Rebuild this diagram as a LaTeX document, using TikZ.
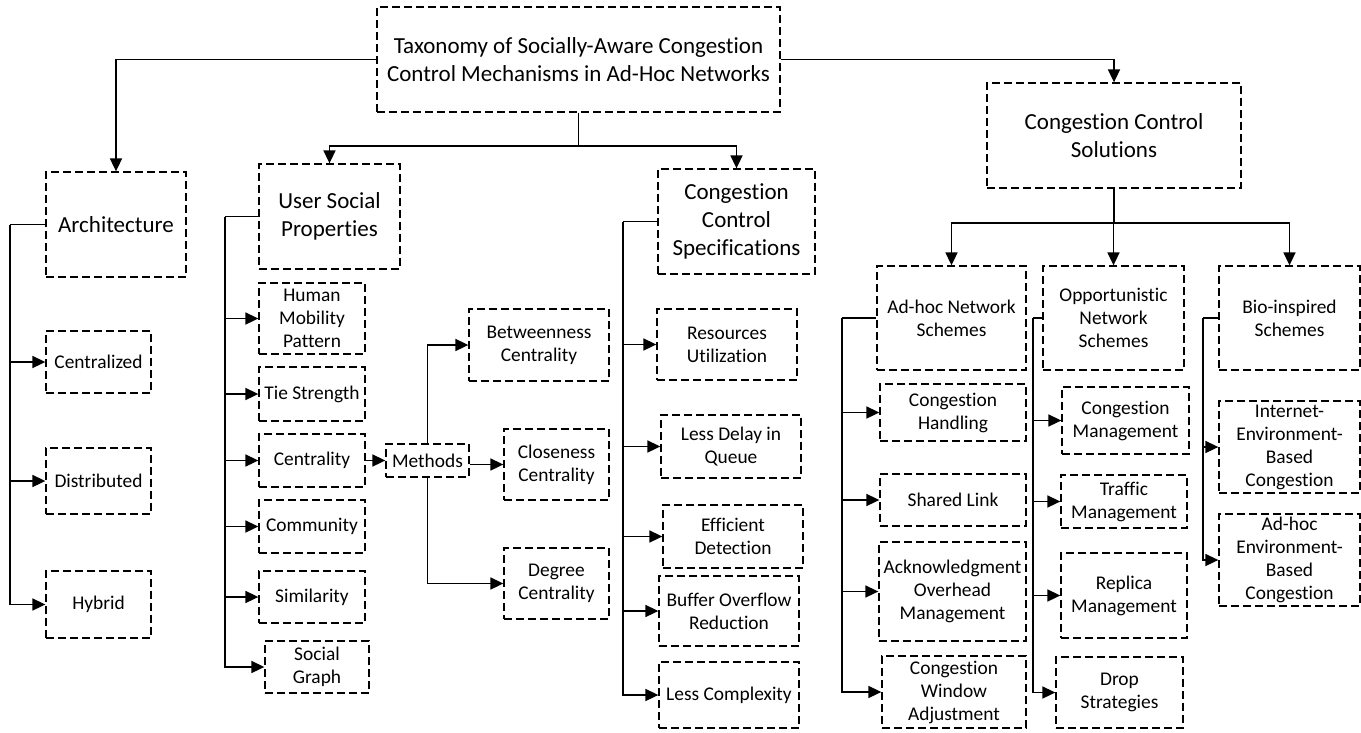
\documentclass[tikz,border=0pt]{standalone}
\usepackage{fontspec}
\setmainfont[Ligatures=NoCommon]{Carlito}
\usetikzlibrary{arrows.meta}

\tikzset{
  boite/.style={draw, dash pattern=on 8pt off 4pt, line width=1.3pt, align=center,
    inner sep=1pt, font=\fontsize{19.4}{23}\selectfont},
  grande/.style={boite, font=\fontsize{23}{28}\selectfont},
  trait/.style={line width=1.7pt},
  fleche/.style={trait, -{Triangle[length=13pt,width=12pt]}}
}

\begin{document}
\begin{tikzpicture}[x=1pt,y=-1pt]

		\useasboundingbox (0,0) rectangle (1361,732);

		% Racine
		\node[grande, minimum width=403pt, minimum height=105pt] (root) at (578.5,59.5)
			{Taxonomy of Socially-Aware Congestion\\Control Mechanisms in Ad-Hoc Networks};

		% Architecture
		\node[grande, minimum width=140pt, minimum height=105pt] (arch) at (116,224.5) {Architecture};
		\node[boite, minimum width=105pt, minimum height=62pt] (centz) at (98.5,362) {Centralized};
		\node[boite, minimum width=105pt, minimum height=66pt] (dist) at (98.5,481) {Distributed};
		\node[boite, minimum width=105pt, minimum height=67pt] (hyb) at (98.5,604.5) {Hybrid};

		% User Social Properties
		\node[grande, minimum width=141pt, minimum height=105pt] (usp) at (329.5,216.5) {User Social\\Properties};
		\node[boite, minimum width=106pt, minimum height=71pt] (hmp) at (312,318.5) {Human\\Mobility\\Pattern};
		\node[boite, minimum width=106pt, minimum height=54pt] (tie) at (312,394) {Tie Strength};
		\node[boite, minimum width=106pt, minimum height=53pt] (centy) at (312,460.5) {Centrality};
		\node[boite, minimum width=106pt, minimum height=53pt] (comm) at (312,526.5) {Community};
		\node[boite, minimum width=106pt, minimum height=52pt] (sim) at (312,597) {Similarity};
		\node[boite, minimum width=104pt, minimum height=52pt] (sgraph) at (317,667) {Social\\Graph};

		% Methods
		\node[boite, minimum width=83pt, minimum height=33pt] (meth) at (427.5,460.5) {Methods};
		\node[boite, minimum width=140pt, minimum height=72pt] (betw) at (539,345) {Betweenness\\Centrality};
		\node[boite, minimum width=105pt, minimum height=71pt] (clos) at (556.5,464.5) {Closeness\\Centrality};
		\node[boite, minimum width=105pt, minimum height=71pt] (deg) at (556.5,583.5) {Degree\\Centrality};

		% Congestion Control Specifications
		\node[grande, minimum width=157pt, minimum height=105pt] (ccspec) at (736.5,221.5) {Congestion\\Control\\Specifications};
		\node[boite, minimum width=140pt, minimum height=71pt] (res) at (727,344.5) {Resources\\Utilization};
		\node[boite, minimum width=140pt, minimum height=63pt] (ldq) at (731,446.5) {Less Delay in\\Queue};
		\node[boite, minimum width=140pt, minimum height=63pt] (effd) at (733,536.5) {Efficient\\Detection};
		\node[boite, minimum width=140pt, minimum height=70pt] (bor) at (729,611) {Buffer Overflow\\Reduction};
		\node[boite, minimum width=140pt, minimum height=66pt] (lcx) at (729,695) {Less Complexity};

		% Congestion Control Solutions
		\node[grande, minimum width=254pt, minimum height=105pt] (ccs) at (1114,135.5) {Congestion Control\\Solutions};
		\node[boite, minimum width=149pt, minimum height=104pt] (adhoc) at (951.5,318) {Ad-hoc Network\\Schemes};
		\node[boite, minimum width=141pt, minimum height=104pt] (opp) at (1113.5,318) {Opportunistic\\Network\\Schemes};
		\node[boite, minimum width=141pt, minimum height=104pt] (bio) at (1289.5,318) {Bio-inspired\\Schemes};

		% Ad-hoc Network Schemes
		\node[boite, minimum width=146pt, minimum height=57pt] (ch) at (953,412.5) {Congestion\\Handling};
		\node[boite, minimum width=146pt, minimum height=52pt] (slink) at (953,500) {Shared Link};
		\node[boite, minimum width=147pt, minimum height=99pt] (ack) at (952.5,591.5) {Acknowledgment\\Overhead\\Management};
		\node[boite, minimum width=144pt, minimum height=72pt] (cwa) at (954,692) {Congestion\\Window\\Adjustment};

		% Opportunistic Network Schemes
		\node[boite, minimum width=127pt, minimum height=67pt] (cm) at (1125.5,420.5) {Congestion\\Management};
		\node[boite, minimum width=126pt, minimum height=53pt] (tm) at (1124,501.5) {Traffic\\Management};
		\node[boite, minimum width=126pt, minimum height=85pt] (rm) at (1124,595.5) {Replica\\Management};
		\node[boite, minimum width=127pt, minimum height=71pt] (drop) at (1119.5,692.5) {Drop\\Strategies};

		% Bio-inspired Schemes
		\node[boite, minimum width=141pt, minimum height=92pt] (iebc) at (1289.5,447) {Internet-\\Environment-\\Based\\Congestion};
		\node[boite, minimum width=141pt, minimum height=92pt] (aebc) at (1289.5,560) {Ad-hoc\\Environment-\\Based\\Congestion};

		% Flèches depuis la racine
		\coordinate (rootjoin) at (578.5,146);
		\draw[fleche] (root.west) -| (arch.north);
		\draw[fleche] (root.east) -| (ccs.north);
		\draw[trait] (root.south) -- (rootjoin);
		\draw[fleche] (rootjoin) -| (usp.north);
		\draw[fleche] (rootjoin) -| (ccspec.north);

		% Architecture -> enfants
		\coordinate (archbus) at (10,224.5);
		\draw[trait] (arch.west) -- (archbus);
		\foreach \n in {centz,dist,hyb}
			\draw[fleche] (archbus) |- (\n.west);

		% User Social Properties -> enfants
		\coordinate (uspbus) at (225,216.5);
		\draw[trait] (usp.west) -- (uspbus);
		\foreach \n in {hmp,tie,centy,comm,sim,sgraph}
			\draw[fleche] (uspbus) |- (\n.west);

		% Centrality -> Methods -> mesures
		\draw[fleche] (centy.east) -- (meth.west);
		\draw[fleche] (meth.north) |- (betw.west);
		\draw[fleche] (meth.east |- clos.west) -- (clos.west);
		\draw[fleche] (meth.south) |- (deg.west);

		% Congestion Control Specifications -> enfants
		\coordinate (ccspecbus) at (623,221.5);
		\draw[trait] (ccspec.west) -- (ccspecbus);
		\foreach \n in {res,ldq,effd,bor,lcx}
			\draw[fleche] (ccspecbus) |- (\n.west);

		% Congestion Control Solutions -> schemes
		\coordinate (ccsjoin) at (1114,223);
		\draw[trait] (ccs.south) -- (ccsjoin);
		\foreach \n in {adhoc,opp,bio}
			\draw[fleche] (ccsjoin) -| (\n.north);

		% Schemes -> enfants
		\coordinate (adhocbus) at (842,318);
		\draw[trait] (adhoc.west) -- (adhocbus);
		\foreach \n in {ch,slink,ack,cwa}
			\draw[fleche] (adhocbus) |- (\n.west);

		\coordinate (oppbus) at (1033,318);
		\draw[trait] (opp.west) -- (oppbus);
		\foreach \n in {cm,tm,rm,drop}
			\draw[fleche] (oppbus) |- (\n.west);

		\coordinate (biobus) at (1203,318);
		\draw[trait] (bio.west) -- (biobus);
		\foreach \n in {iebc,aebc}
			\draw[fleche] (biobus) |- (\n.west);

	\end{tikzpicture}
\end{document}
